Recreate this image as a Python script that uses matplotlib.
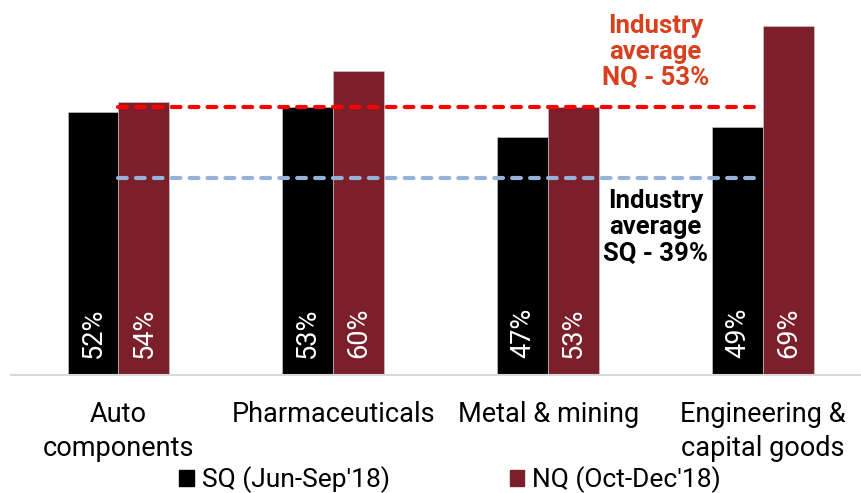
import numpy as np
import matplotlib.pyplot as plt
from matplotlib.patches import Patch

plt.rcParams['font.family'] = ['Roboto', 'DejaVu Sans']

categories = ['Auto\ncomponents', 'Pharmaceuticals', 'Metal & mining', 'Engineering &\ncapital goods']
sq = [52, 53, 47, 49]
nq = [54, 60, 53, 69]
sq_label = "SQ (Jun-Sep'18)"
nq_label = "NQ (Oct-Dec'18)"
avg_sq = 39
avg_nq = 53

sq_color = '#000000'
nq_color = '#7B1F2B'

fig = plt.figure(figsize=(8.62, 4.93), dpi=100)
ax = fig.add_axes([0.0128, 0.2394, 0.9872, 0.7606])

x = np.arange(len(categories))
w = 0.237
ax.bar(x - w / 2, sq, w, color=sq_color, edgecolor='#D0D0D0', linewidth=0.4)
ax.bar(x + w / 2, nq, w, color=nq_color, edgecolor='#D0D0D0', linewidth=0.4)

for i in range(len(categories)):
    for xi, v in [(x[i] - w / 2, sq[i]), (x[i] + w / 2, nq[i])]:
        ax.annotate(f'{v}%', (xi, 0), xytext=(0, 12), textcoords='offset points',
                    rotation=90, ha='center', va='bottom', color='white',
                    fontsize=19.5)

# industry average lines
ax.plot([0, 3], [avg_nq, avg_nq], color='#FF0000', lw=3,
        linestyle=(0, (2.1, 2.2)), dash_capstyle='round', zorder=3)
ax.plot([0, 3], [avg_sq, avg_sq], color='#95B3D7', lw=3,
        linestyle=(0, (2.1, 2.2)), dash_capstyle='round', zorder=3)

ax.text(2.5, 63.8, f'Industry\naverage\nNQ - {avg_nq}%', color='#D9411E',
        fontsize=18.5, fontweight='bold', ha='center', va='center', linespacing=1.12)
ax.text(2.5, 29.2, f'Industry\naverage\nSQ - {avg_sq}%', color='black',
        fontsize=18.5, fontweight='bold', ha='center', va='center', linespacing=1.12)

ax.set_xlim(-0.5, 3.46)
ax.set_ylim(0, 74.1)
ax.set_xticks(x)
ax.set_xticklabels(categories, fontsize=19.5, linespacing=1.3)
ax.tick_params(axis='x', length=0, pad=19)
ax.set_yticks([])
for s in ['top', 'right', 'left']:
    ax.spines[s].set_visible(False)
ax.spines['bottom'].set_color('#D9D9D9')
ax.spines['bottom'].set_linewidth(1.5)

handles = [Patch(color=sq_color, label=sq_label), Patch(color=nq_color, label=nq_label)]
fig.legend(handles=handles, loc='center', bbox_to_anchor=(0.522, 0.027), ncol=2,
           frameon=False, fontsize=19, handlelength=0.55, handleheight=0.55,
           handletextpad=0.3, columnspacing=4.55)

plt.savefig('out.png', dpi=100)
